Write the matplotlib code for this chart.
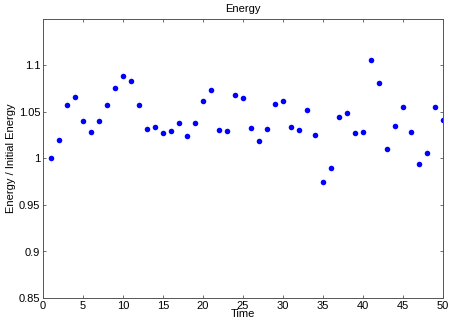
import matplotlib
matplotlib.use("Agg")
import matplotlib.pyplot as plt
import numpy as np

time = list(range(1, 51))
energy = [1.000, 1.0204, 1.0579, 1.0664, 1.040, 1.029, 1.0404, 1.0571, 1.0754, 1.0882,
          1.0832, 1.0571, 1.0321, 1.0336, 1.0275, 1.0293, 1.0386, 1.0239, 1.0386, 1.0614,
          1.0736, 1.0307, 1.0296, 1.0682, 1.0654, 1.0329, 1.0193, 1.0314, 1.0589, 1.0621,
          1.0343, 1.0304, 1.0525, 1.0257, 0.975, 0.9896, 1.045, 1.0489, 1.0271, 1.0286,
          1.1064, 1.0814, 1.0104, 1.0346, 1.055, 1.0286, 0.9943, 1.0054, 1.055, 1.0418]
xticks = [0, 5, 10, 15, 20, 25, 30, 35, 40, 45, 50]
yticks = [0.85, 0.9, 0.95, 1.0, 1.05, 1.1]
ytick_labels = ["0.85", "0.9", "0.95", "1", "1.05", "1.1"]

plt.rcParams['font.family'] = ['Liberation Sans', 'DejaVu Sans']
fig = plt.figure(figsize=(4.5, 3.25), dpi=100)
ax = fig.add_axes([43/450, 1 - 298/325, 400/450, (298-19)/325])
ax.plot(time, energy, 'o', color='#0000ff', markersize=4, markeredgewidth=0)
ax.set_xlim(0, 50)
ax.set_ylim(0.85, 1.15)
ax.set_xticks(xticks)
ax.set_xticklabels([str(t) for t in xticks])
ax.set_yticks(yticks)
ax.set_yticklabels(ytick_labels)
ax.tick_params(direction='in', top=True, right=True, labelsize=8, length=2.5,
               width=0.6, pad=2, color='#555555')
for s in ax.spines.values():
    s.set_linewidth(0.7)
    s.set_color('#555555')
ax.set_title("Energy", fontsize=8, pad=5)
ax.set_xlabel("Time", fontsize=8, labelpad=-1)
ax.set_ylabel("Energy / Initial Energy", fontsize=8, labelpad=2)
fig.savefig("out.png", dpi=100)
